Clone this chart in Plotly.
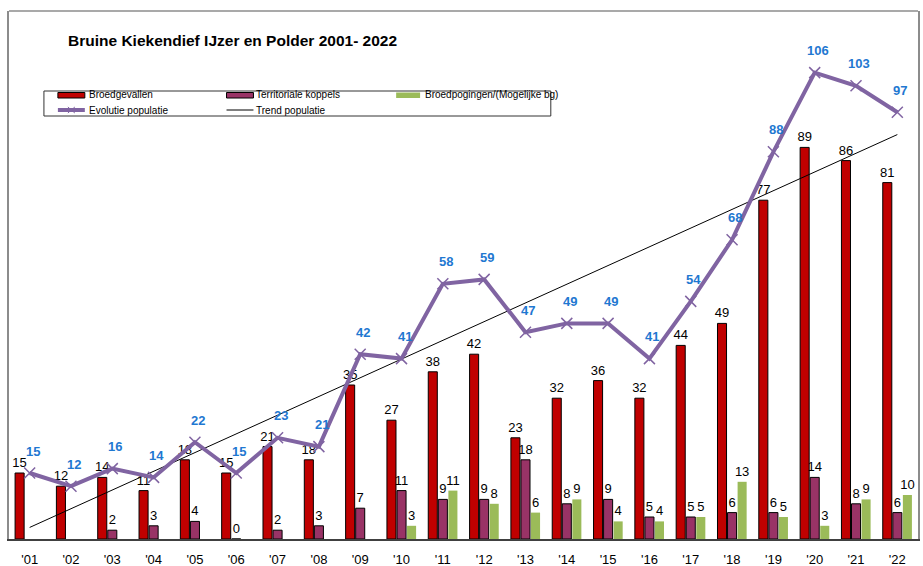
import numpy as np
import plotly.graph_objects as go

years = ["'01", "'02", "'03", "'04", "'05", "'06", "'07", "'08", "'09", "'10", "'11",
         "'12", "'13", "'14", "'15", "'16", "'17", "'18", "'19", "'20", "'21", "'22"]
broedgevallen = [15, 12, 14, 11, 18, 15, 21, 18, 35, 27, 38, 42, 23, 32, 36, 32, 44, 49, 77, 89, 86, 81]
territoriale = [None, None, 2, 3, 4, 0, 2, 3, 7, 11, 9, 9, 18, 8, 9, 5, 5, 6, 6, 14, 8, 6]
broedpogingen = [None, None, None, None, None, None, None, None, None,
                 3, 11, 8, 6, 9, 4, 4, 5, 13, 5, 3, 9, 10]
populatie = [15, 12, 16, 14, 22, 15, 23, 21, 42, 41, 58, 59, 47, 49, 49, 41, 54, 68, 88, 106, 103, 97]

# linear trend of the population (as the Excel trendline)
idx = np.arange(1, len(populatie) + 1)
slope, intercept = np.polyfit(idx, populatie, 1)
trend = slope * idx + intercept

FONT = "Liberation Sans, Arial, sans-serif"
RED = "#C00000"
PURPLE_BAR = "#993366"
GREEN = "#9BBB59"
LINE = "#8064A2"
BLUE = "#1F78D1"

# plot area in pixels (for placing the hand-made legend)
X0, X1, Y0, Y1 = 9, 920, 539, 11


def px(x):
    return (x - X0) / (X1 - X0)


def py(y):
    return (Y0 - y) / (Y0 - Y1)


def bar_labels(vals):
    return ["" if v is None else str(v) for v in vals]


fig = go.Figure()

fig.add_trace(go.Bar(
    x=years, y=broedgevallen, name="Broedgevallen",
    marker=dict(color=RED, line=dict(color="black", width=1)),
    text=bar_labels(broedgevallen), textposition="outside",
    textfont=dict(size=13, color="black", family=FONT),
    constraintext="none", cliponaxis=False
))
fig.add_trace(go.Bar(
    x=years, y=territoriale, name="Territoriale koppels",
    marker=dict(color=PURPLE_BAR, line=dict(color="black", width=1)),
    text=bar_labels(territoriale), textposition="outside",
    textfont=dict(size=13, color="black", family=FONT),
    constraintext="none", cliponaxis=False
))
fig.add_trace(go.Bar(
    x=years, y=broedpogingen, name="Broedpogingen/(Mogelijke bg)",
    marker=dict(color=GREEN, line=dict(width=0)),
    text=bar_labels(broedpogingen), textposition="outside",
    textfont=dict(size=13, color="black", family=FONT),
    constraintext="none", cliponaxis=False
))

fig.add_trace(go.Scatter(
    x=years, y=trend, mode="lines", name="Trend populatie",
    line=dict(color="black", width=1)
))

fig.add_trace(go.Scatter(
    x=years, y=populatie, mode="lines+markers", name="Evolutie populatie",
    line=dict(color=LINE, width=4),
    marker=dict(symbol="x-thin", size=11, line=dict(color=LINE, width=1.5))
))

# blue labels of the population line
for yr, v in zip(years, populatie):
    fig.add_annotation(
        x=yr, y=v, text="<b>%d</b>" % v, showarrow=False,
        xshift=3, yshift=22,
        font=dict(size=13, color=BLUE, family=FONT)
    )

# title
fig.add_annotation(
    x=px(66), y=py(40), xref="paper", yref="paper", xanchor="left", yanchor="middle",
    text="<b>Bruine Kiekendief IJzer en Polder 2001- 2022</b>", showarrow=False,
    font=dict(size=15.5, color="black", family=FONT)
)

# legend (drawn by hand to get the Excel layout)
shapes = [
    dict(type="line", xref="paper", yref="paper", x0=0, x1=1, y0=1, y1=1,
         line=dict(color="#8c8c8c", width=1.5)),
    dict(type="rect", xref="paper", yref="paper", x0=px(44), x1=px(552), y0=py(91), y1=py(116),
         line=dict(color="#333333", width=1), fillcolor="white", layer="below"),
    dict(type="rect", xref="paper", yref="paper", x0=px(58), x1=px(85), y0=py(92.5), y1=py(98),
         line=dict(color="black", width=1), fillcolor=RED),
    dict(type="rect", xref="paper", yref="paper", x0=px(227), x1=px(254), y0=py(92.5), y1=py(98),
         line=dict(color="black", width=1), fillcolor=PURPLE_BAR),
    dict(type="rect", xref="paper", yref="paper", x0=px(397), x1=px(421), y0=py(92.5), y1=py(98),
         line=dict(width=0), fillcolor=GREEN),
    dict(type="line", xref="paper", yref="paper", x0=px(58), x1=px(85), y0=py(110), y1=py(110),
         line=dict(color=LINE, width=4)),
    dict(type="line", xref="paper", yref="paper", x0=px(68), x1=px(75), y0=py(107), y1=py(113),
         line=dict(color=LINE, width=1)),
    dict(type="line", xref="paper", yref="paper", x0=px(68), x1=px(75), y0=py(113), y1=py(107),
         line=dict(color=LINE, width=1)),
    dict(type="line", xref="paper", yref="paper", x0=px(227), x1=px(254), y0=py(110), y1=py(110),
         line=dict(color="black", width=1)),
]
legend_texts = [
    ("Broedgevallen", 87, 95), ("Territoriale koppels", 255, 95),
    ("Broedpogingen/(Mogelijke bg)", 424, 95),
    ("Evolutie populatie", 87, 110), ("Trend populatie", 255, 110),
]
for txt, lx, ly in legend_texts:
    fig.add_annotation(
        x=px(lx), y=py(ly), xref="paper", yref="paper", xanchor="left", yanchor="middle",
        text=txt, showarrow=False, font=dict(size=10, color="black", family=FONT)
    )

fig.update_layout(
    width=923, height=566,
    margin=dict(l=X0, r=923 - X1, t=Y1, b=566 - Y0),
    paper_bgcolor="white", plot_bgcolor="white",
    barmode="group", bargap=0.27, bargroupgap=0.1,
    showlegend=False,
    shapes=shapes,
    font=dict(family=FONT, color="black"),
    xaxis=dict(
        type="category", range=[-0.5, len(years) - 0.5],
        showline=True, linecolor="#404040", linewidth=1.5,
        ticks="", showgrid=False, ticklabelstandoff=8, automargin=False,
        tickfont=dict(size=13, color="black", family=FONT)
    ),
    yaxis=dict(
        range=[0, 120], showgrid=False, zeroline=False, showticklabels=False,
        ticks="", showline=True, linecolor="#8c8c8c", linewidth=1.5, mirror=True
    ),
)

# the page's default body margin would shift the figure by 8px
fig.write_html("out.html", config={"displayModeBar": False},
               post_script="document.body.style.margin='0';")
